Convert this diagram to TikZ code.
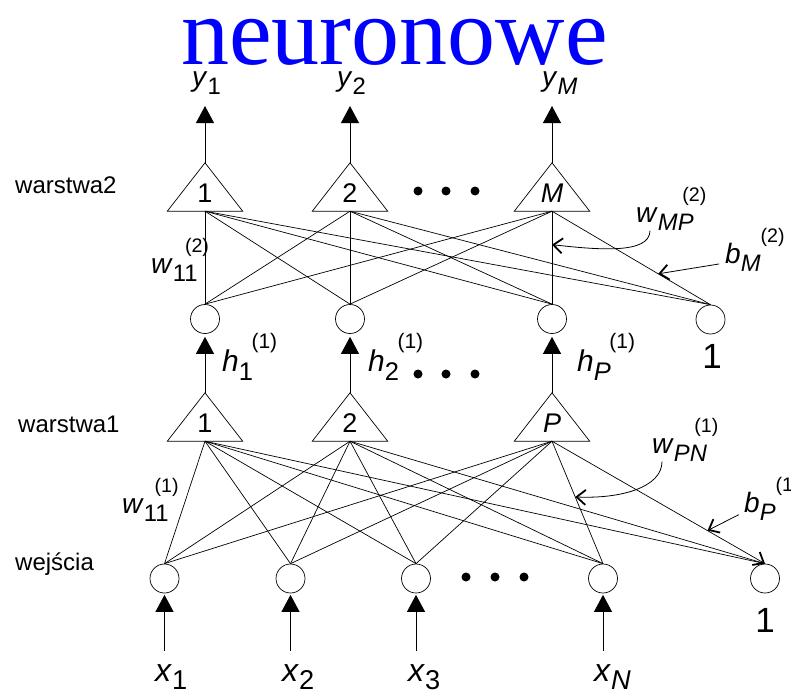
\documentclass[tikz,border=0pt]{standalone}
\usepackage{fontspec}
\setmainfont{Liberation Sans}
\newfontfamily\serifttl{Liberation Serif}
\usepackage{graphicx}
\usetikzlibrary{positioning,arrows.meta,calc}

% italic symbol with index and layer number
\newcommand\sym[4][-.12em]{\textit{#2}\raisebox{-.3em}{\scalebox{.85}{#3}}\kern#1\raisebox{.75em}{\scalebox{.7}{#4}}}
\newcommand\symn[2]{\textit{#1}\raisebox{-.28em}{\scalebox{.85}{#2}}}

\begin{document}
\begin{tikzpicture}[x=1pt,y=-1pt,
  font=\fontsize{28}{32}\selectfont,
  layerunit/.style={minimum width=75pt,minimum height=48pt,inner sep=0pt,
    text height=30pt,text depth=0pt,font=\fontsize{27}{30}\selectfont},
  neuron/.style={circle,draw,line width=0.7pt,minimum size=29pt,inner sep=0pt},
  feed/.style={line width=0.8pt,-{Triangle[width=18pt,length=17pt]}},
  wire/.style={line width=0.7pt},
  pointer/.style={line width=0.8pt,-{Straight Barb[length=9pt,width=15pt,line width=1.8pt]}},
  lab/.style={anchor=base west,inner sep=0pt},
  layername/.style={anchor=base west,inner sep=0pt,font=\fontsize{24}{28}\selectfont},
  onelab/.style={anchor=base,inner sep=0pt,font=\fontsize{35}{40}\selectfont}
]
\useasboundingbox (0,0) rectangle (791,695);

% title
\node[anchor=base,inner sep=0pt,text=blue,font=\serifttl\fontsize{96}{96}\selectfont] (title) at (394.5,65) {neuronowe};

% layer 2
\node[layerunit] (o1) at (205,187) {1};
\node[layerunit] (o2) at (350,187) {2};
\node[layerunit] (oM) at (552,187) {\textit{M}};
% layer 1
\node[layerunit] (a1) at (205,417) {1};
\node[layerunit] (a2) at (350,417) {2};
\node[layerunit] (aP) at (552,417) {\textit{P}};
\foreach \t in {o1,o2,oM,a1,a2,aP}
  \draw[line width=0.7pt] (\t.south west) -- (\t.north) -- (\t.south east) -- cycle;

% hidden outputs
\node[neuron] (h1) at (205,319) {};
\node[neuron] (h2) at (350,319) {};
\node[neuron] (hP) at (552,319) {};
\node[neuron] (hb) at (710.5,319.5) {};
% inputs
\node[neuron] (i1) at (164.5,578.5) {};
\node[neuron] (i2) at (290.5,578.5) {};
\node[neuron] (i3) at (416,578.5) {};
\node[neuron] (iN) at (603,578.5) {};
\node[neuron] (ib) at (765,578.5) {};

% weights
\foreach \t in {o1,o2,oM}
  \foreach \h in {h1,h2,hP,hb}
    \draw[wire] (\t.south) -- (\h.north);
\foreach \t in {a1,a2}
  \foreach \i in {i1,i2,i3,iN,ib}
    \draw[wire] (\t.south) -- (\i.north);
\foreach \i in {i1,i2,i3,iN}
  \draw[wire] (aP.south) -- (\i.north);
\draw[wire,-{Straight Barb[length=9pt,width=15pt,line width=1.8pt]}] (aP.south) -- (ib.north);

% labels
\node[lab] (y1) at (192,87) {\symn{y}{1}};
\node[lab] (y2) at (337,87) {\symn{y}{2}};
\node[lab] (yM) at (542,87) {\symn{y}{\textit{M}}};
\node[lab,font=\fontsize{32}{36}\selectfont] (x1) at (155,681) {\symn{x}{1}};
\node[lab,font=\fontsize{32}{36}\selectfont] (x2) at (282,681) {\symn{x}{2}};
\node[lab,font=\fontsize{32}{36}\selectfont] (x3) at (408,681) {\symn{x}{3}};
\node[lab,font=\fontsize{32}{36}\selectfont] (xN) at (594,681) {\symn{x}{\textit{N}}};
\node[lab,font=\fontsize{30}{34}\selectfont] (hl1) at (222,371) {\sym[-.05em]{h}{1}{(1)}};
\node[lab,font=\fontsize{30}{34}\selectfont] (hl2) at (368,371) {\sym[-.05em]{h}{2}{(1)}};
\node[lab,font=\fontsize{30}{34}\selectfont] (hlP) at (577,371) {\sym[-.05em]{h}{\textit{P}}{(1)}};
\node[lab] (w112) at (151,273) {\sym[-.45em]{w}{11}{(2)}};
\node[lab] (wMP) at (636,222) {\sym[-.4em]{w}{\textit{MP}}{(2)}};
\node[lab] (bM) at (725,263) {\sym[0em]{b}{\textit{M}}{(2)}};
\node[lab] (w111) at (122,513) {\sym[-.5em]{w}{11}{(1)}};
\node[lab] (wPN) at (652,453) {\sym[-.45em]{w}{\textit{PN}}{(1)}};
\node[lab] (bP) at (744,512) {\sym[0em]{b}{\textit{P}}{(1)}};
\node[onelab] (one2) at (712,368) {1};
\node[onelab] (one1) at (765,632) {1};
\node[layername] (lw2) at (15,193) {warstwa2};
\node[layername] (lw1) at (18,432) {warstwa1};
\node[layername] (lwe) at (15,570) {wejścia};

% signal flow
\foreach \t/\y in {o1/y1,o2/y2,oM/yM}
  \draw[feed,shorten >=11pt] (\t.north) -- (\t.north |- \y.south);
\foreach \t/\h in {a1/h1,a2/h2,aP/hP}
  \draw[feed,shorten >=3pt] (\t.north) -- (\h.south);
\foreach \i/\x in {i1/x1,i2/x2,i3/x3,iN/xN}
  \draw[feed,shorten <=13pt,shorten >=1.5pt] (\i.south |- \x.north) -- (\i.south);

% dots
\foreach \x in {418,446,475} {
  \fill (\x,191) circle (4.5pt);
  \fill (\x,374) circle (4.5pt);
}
\foreach \x in {466,495,524}
  \fill (\x,577) circle (4.5pt);

% pointers to weights
\coordinate (pMP) at ($(oM.south)!.36!(hP.north)$);
\coordinate (pbM) at ($(oM.south)!.67!(hb.north)$);
\coordinate (pPN) at ($(aP.south)!.455!(iN.north)$);
\coordinate (pbP) at ($(aP.south)!.73!(ib.north)$);
\draw[pointer] ([xshift=14pt]wMP.south west) .. controls +(0,24) and +(45,5) .. (pMP);
\draw[pointer,shorten <=6pt] (bM.base west) -- (pbM);
\draw[pointer] ([xshift=10pt]wPN.south west) .. controls +(0,26) and +(45,2) .. (pPN);
\draw[pointer,shorten <=6pt] (bP.base west) -- (pbP);
\end{tikzpicture}
\end{document}
